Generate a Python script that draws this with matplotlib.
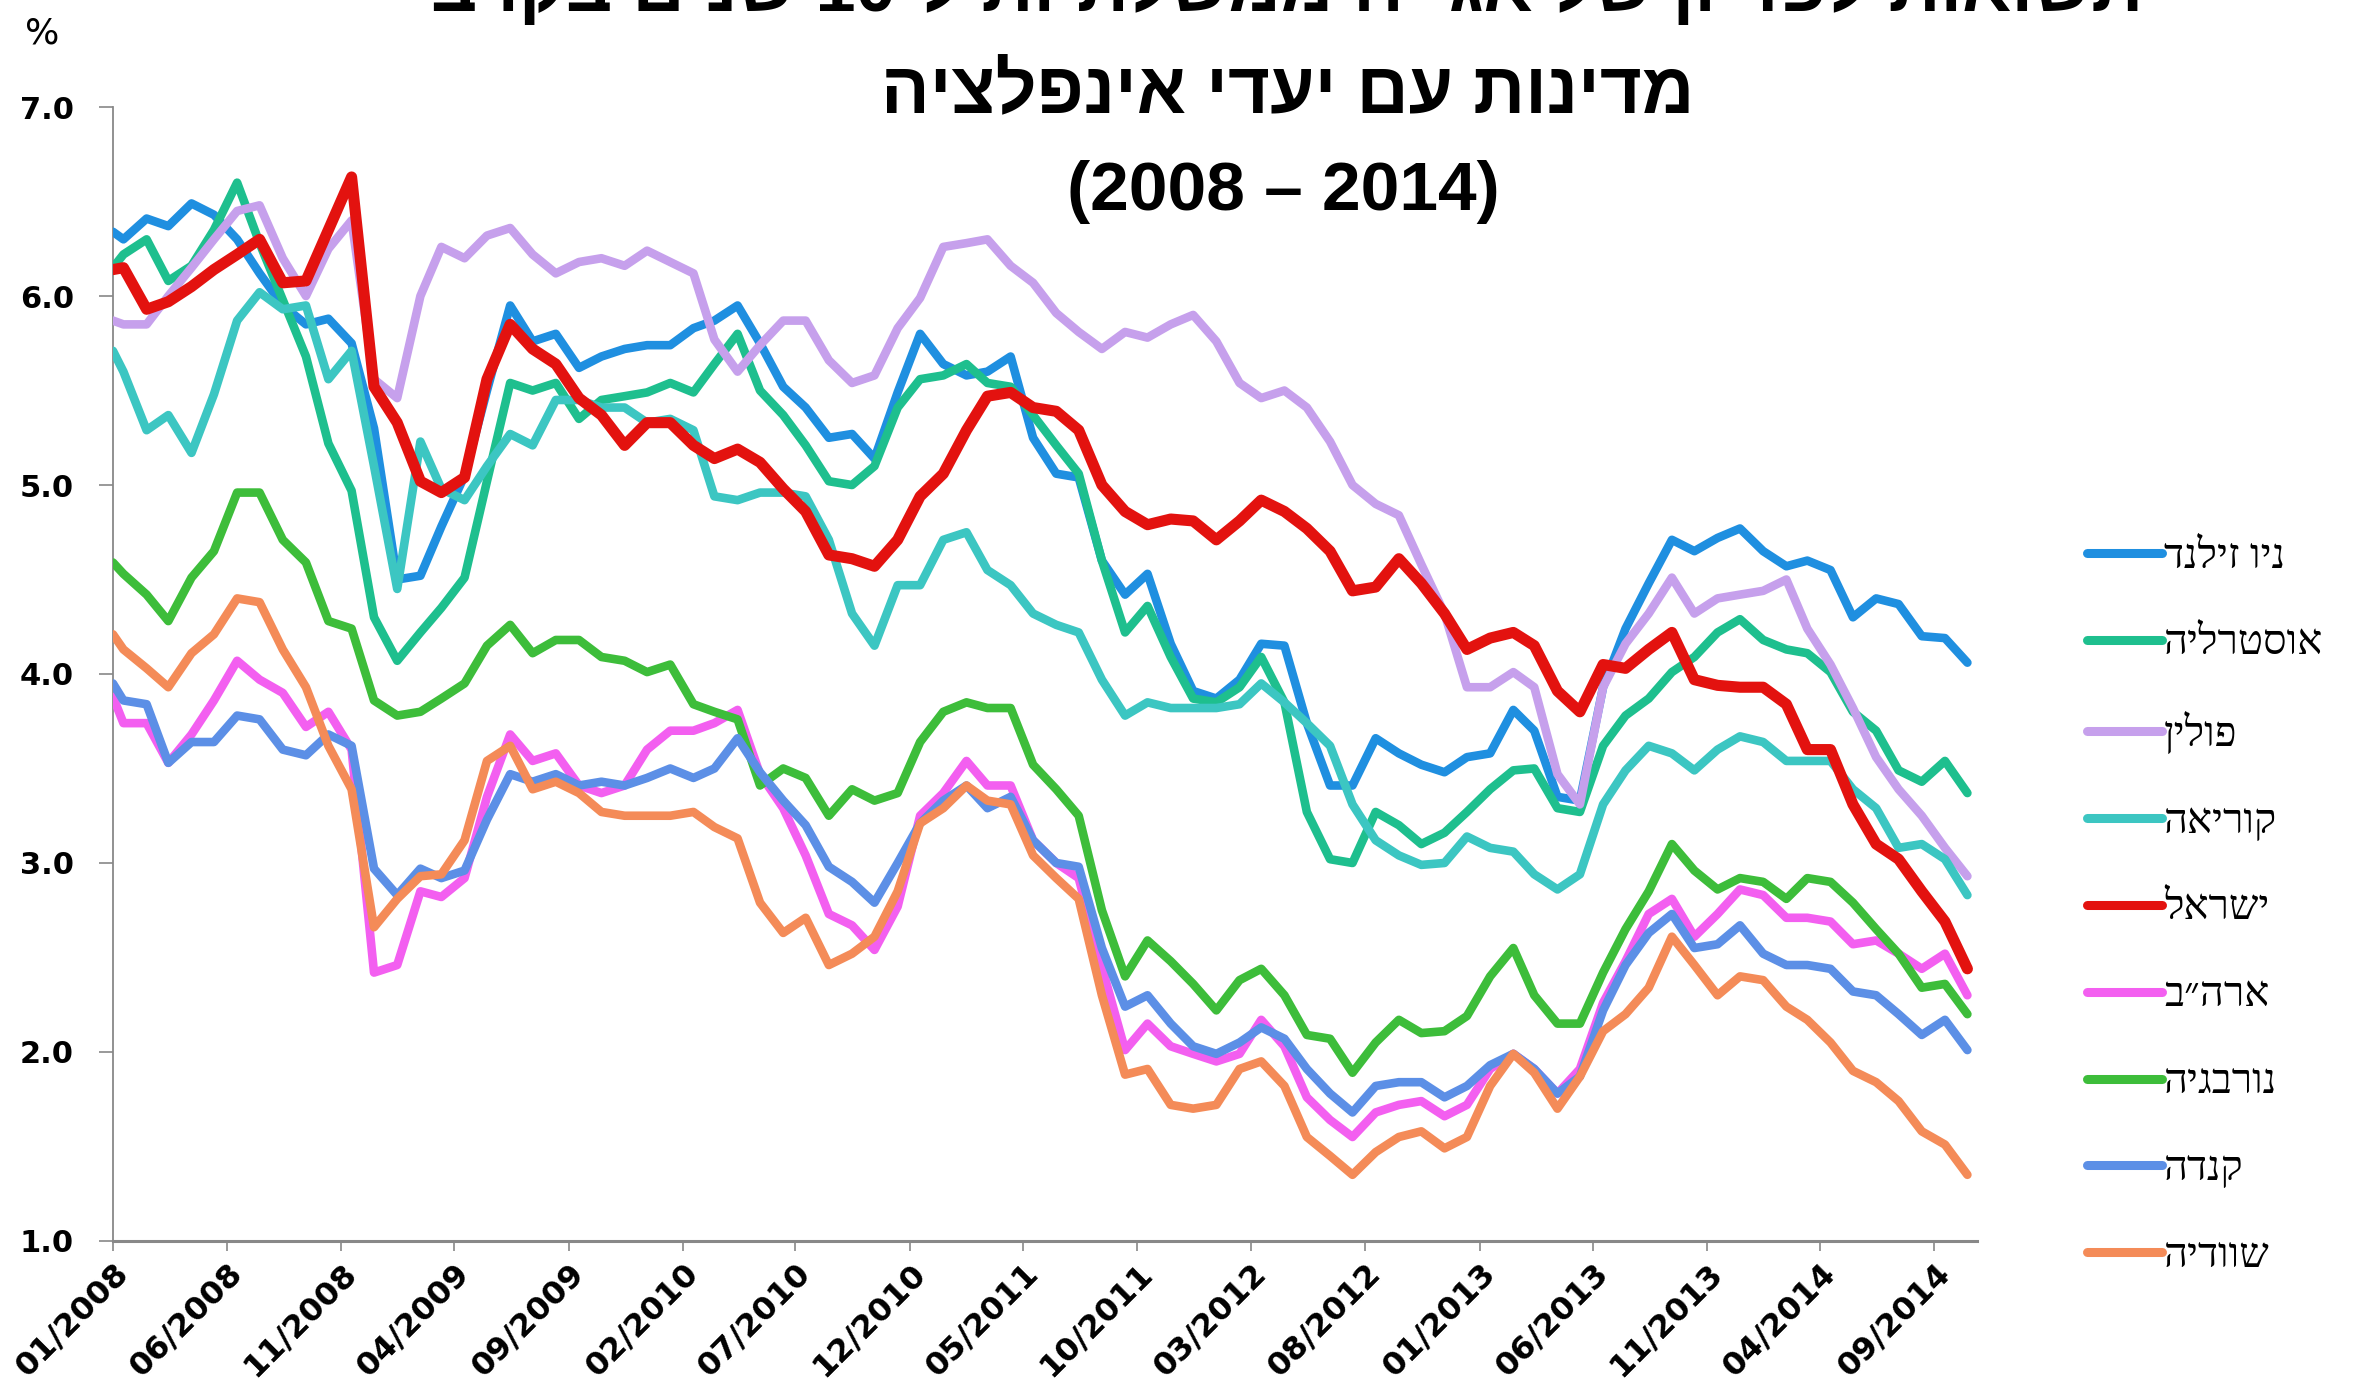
import re
import matplotlib
matplotlib.use("Agg")
import matplotlib.pyplot as plt
import pandas as pd

# monthly yields, %; first value sits on 01/01/2008, the rest mid-month 01/2008..10/2014
nz = [6.34, 6.30, 6.41, 6.37, 6.49, 6.43, 6.30, 6.12, 5.95, 5.85, 5.88, 5.75, 5.30, 4.50, 4.52, 4.78,
      5.05, 5.50, 5.95, 5.76, 5.80, 5.62, 5.68, 5.72, 5.74, 5.74, 5.83, 5.87, 5.95, 5.75,
      5.52, 5.41, 5.25, 5.27, 5.14, 5.49, 5.80, 5.64, 5.58, 5.60, 5.68, 5.25, 5.06, 5.04,
      4.60, 4.42, 4.53, 4.16, 3.91, 3.87, 3.97, 4.16, 4.15, 3.74, 3.41, 3.41, 3.66, 3.58, 3.52,
      3.48, 3.56, 3.58, 3.81, 3.70, 3.35, 3.33, 3.93, 4.24, 4.48, 4.71, 4.65, 4.72, 4.77,
      4.65, 4.57, 4.60, 4.55, 4.30, 4.40, 4.37, 4.20, 4.19, 4.06]
australia = [6.15, 6.22, 6.30, 6.08, 6.16, 6.35, 6.60, 6.28, 5.98, 5.68, 5.22, 4.97, 4.30, 4.07, 4.22, 4.35,
             4.51, 5.02, 5.54, 5.50, 5.54, 5.35, 5.45, 5.47, 5.49, 5.54, 5.49, 5.64, 5.80, 5.50,
             5.37, 5.21, 5.02, 5.00, 5.10, 5.41, 5.56, 5.58, 5.64, 5.54, 5.52, 5.37, 5.21, 5.06,
             4.60, 4.22, 4.36, 4.09, 3.87, 3.85, 3.93, 4.09, 3.85, 3.27, 3.02, 3.00, 3.27, 3.20, 3.10,
             3.16, 3.27, 3.39, 3.49, 3.50, 3.29, 3.27, 3.62, 3.78, 3.87, 4.01, 4.09, 4.22, 4.29,
             4.18, 4.13, 4.11, 4.01, 3.80, 3.70, 3.49, 3.43, 3.54, 3.37]
poland = [5.87, 5.85, 5.85, 6.00, 6.15, 6.30, 6.45, 6.48, 6.20, 6.00, 6.25, 6.40, 5.56, 5.46, 6.00, 6.26,
          6.20, 6.32, 6.36, 6.22, 6.12, 6.18, 6.20, 6.16, 6.24, 6.18, 6.12, 5.77, 5.60, 5.74,
          5.87, 5.87, 5.66, 5.54, 5.58, 5.83, 5.99, 6.26, 6.28, 6.30, 6.16, 6.07, 5.91, 5.81,
          5.72, 5.81, 5.78, 5.85, 5.90, 5.76, 5.54, 5.46, 5.50, 5.41, 5.23, 5.00, 4.90, 4.84, 4.58,
          4.32, 3.93, 3.93, 4.01, 3.93, 3.47, 3.31, 3.93, 4.16, 4.32, 4.51, 4.32, 4.40, 4.42,
          4.44, 4.50, 4.24, 4.05, 3.82, 3.56, 3.39, 3.25, 3.08, 2.93]
korea = [5.71, 5.60, 5.29, 5.37, 5.17, 5.48, 5.87, 6.02, 5.93, 5.95, 5.56, 5.71, 5.10, 4.45, 5.23, 4.98,
         4.92, 5.10, 5.27, 5.21, 5.45, 5.45, 5.41, 5.41, 5.33, 5.35, 5.29, 4.94, 4.92, 4.96,
         4.96, 4.94, 4.71, 4.32, 4.15, 4.47, 4.47, 4.71, 4.75, 4.55, 4.47, 4.32, 4.26, 4.22,
         3.97, 3.78, 3.85, 3.82, 3.82, 3.82, 3.84, 3.95, 3.85, 3.74, 3.62, 3.31, 3.12, 3.04, 2.99,
         3.00, 3.14, 3.08, 3.06, 2.94, 2.86, 2.94, 3.31, 3.49, 3.62, 3.58, 3.49, 3.60, 3.67,
         3.64, 3.54, 3.54, 3.54, 3.39, 3.29, 3.08, 3.10, 3.02, 2.83]
israel = [6.14, 6.15, 5.93, 5.97, 6.05, 6.14, 6.22, 6.30, 6.07, 6.08, 6.35, 6.63, 5.52, 5.33, 5.02, 4.96,
          5.04, 5.56, 5.85, 5.72, 5.64, 5.46, 5.37, 5.21, 5.33, 5.33, 5.21, 5.14, 5.19, 5.12,
          4.98, 4.86, 4.63, 4.61, 4.57, 4.71, 4.94, 5.06, 5.29, 5.47, 5.49, 5.41, 5.39, 5.29,
          5.00, 4.86, 4.79, 4.82, 4.81, 4.71, 4.81, 4.92, 4.86, 4.77, 4.65, 4.44, 4.46, 4.61, 4.48,
          4.32, 4.13, 4.19, 4.22, 4.15, 3.91, 3.80, 4.05, 4.03, 4.13, 4.22, 3.97, 3.94, 3.93,
          3.93, 3.84, 3.60, 3.60, 3.31, 3.10, 3.02, 2.85, 2.69, 2.44]
usa = [3.88, 3.74, 3.74, 3.53, 3.68, 3.86, 4.07, 3.97, 3.90, 3.72, 3.80, 3.60, 2.42, 2.46, 2.85, 2.82,
       2.92, 3.35, 3.68, 3.54, 3.58, 3.41, 3.37, 3.41, 3.60, 3.70, 3.70, 3.74, 3.81, 3.47,
       3.29, 3.04, 2.73, 2.67, 2.54, 2.77, 3.25, 3.37, 3.54, 3.41, 3.41, 3.12, 3.00, 2.92,
       2.45, 2.01, 2.15, 2.03, 1.99, 1.95, 1.99, 2.17, 2.03, 1.76, 1.64, 1.55, 1.68, 1.72, 1.74,
       1.66, 1.72, 1.91, 1.99, 1.91, 1.78, 1.91, 2.26, 2.48, 2.73, 2.81, 2.61, 2.73, 2.86,
       2.83, 2.71, 2.71, 2.69, 2.57, 2.59, 2.52, 2.44, 2.52, 2.30]
norway = [4.59, 4.53, 4.42, 4.28, 4.51, 4.65, 4.96, 4.96, 4.71, 4.59, 4.28, 4.24, 3.86, 3.78, 3.80, 3.87,
          3.95, 4.15, 4.26, 4.11, 4.18, 4.18, 4.09, 4.07, 4.01, 4.05, 3.84, 3.80, 3.76, 3.41,
          3.50, 3.45, 3.25, 3.39, 3.33, 3.37, 3.64, 3.80, 3.85, 3.82, 3.82, 3.52, 3.39, 3.25,
          2.75, 2.40, 2.59, 2.48, 2.36, 2.22, 2.38, 2.44, 2.30, 2.09, 2.07, 1.89, 2.05, 2.17, 2.10,
          2.11, 2.19, 2.40, 2.55, 2.30, 2.15, 2.15, 2.42, 2.65, 2.85, 3.10, 2.96, 2.86, 2.92,
          2.90, 2.81, 2.92, 2.90, 2.79, 2.65, 2.52, 2.34, 2.36, 2.20]
canada = [3.95, 3.86, 3.84, 3.53, 3.64, 3.64, 3.78, 3.76, 3.60, 3.57, 3.68, 3.62, 2.97, 2.83, 2.97, 2.92,
          2.96, 3.23, 3.47, 3.43, 3.47, 3.41, 3.43, 3.41, 3.45, 3.50, 3.45, 3.50, 3.66, 3.48,
          3.33, 3.20, 2.98, 2.90, 2.79, 3.00, 3.21, 3.33, 3.41, 3.29, 3.35, 3.12, 3.00, 2.98,
          2.55, 2.24, 2.30, 2.15, 2.03, 1.99, 2.05, 2.13, 2.07, 1.91, 1.78, 1.68, 1.82, 1.84, 1.84,
          1.76, 1.82, 1.93, 1.99, 1.91, 1.78, 1.87, 2.22, 2.46, 2.63, 2.73, 2.55, 2.57, 2.67,
          2.52, 2.46, 2.46, 2.44, 2.32, 2.30, 2.20, 2.09, 2.17, 2.01]
sweden = [4.21, 4.13, 4.03, 3.93, 4.11, 4.21, 4.40, 4.38, 4.13, 3.93, 3.62, 3.39, 2.66, 2.81, 2.93, 2.94,
          3.12, 3.54, 3.62, 3.39, 3.43, 3.37, 3.27, 3.25, 3.25, 3.25, 3.27, 3.19, 3.13, 2.79,
          2.63, 2.71, 2.46, 2.52, 2.61, 2.85, 3.21, 3.29, 3.41, 3.33, 3.31, 3.04, 2.92, 2.81,
          2.30, 1.88, 1.91, 1.72, 1.70, 1.72, 1.91, 1.95, 1.82, 1.55, 1.45, 1.35, 1.47, 1.55, 1.58,
          1.49, 1.55, 1.82, 1.99, 1.89, 1.70, 1.87, 2.11, 2.20, 2.34, 2.61, 2.46, 2.30, 2.40,
          2.38, 2.24, 2.17, 2.05, 1.90, 1.84, 1.74, 1.58, 1.51, 1.35]

dates = [pd.Timestamp("2008-01-01")] + list(pd.date_range("2008-01-01", periods=82, freq="MS") + pd.Timedelta(days=14))
tick_dates = pd.date_range("2008-01-01", "2014-09-01", freq="5MS")

names = ["ניו זילנד", "אוסטרליה", "פולין", "קוריאה", "ישראל", "ארה״ב", "נורבגיה", "קנדה", "שוודיה"]
series = [nz, australia, poland, korea, israel, usa, norway, canada, sweden]
colors = ["#1f8fe0", "#1ebf8e", "#c6a0ec", "#3cc6c2", "#e3120f", "#f35ff0", "#3dbd3a", "#5c8fe6", "#f48b58"]

title1 = "תשואות לפדיון של אג״ח ממשלתיות ל-10 שנים בקרב"
title2 = "מדינות עם יעדי אינפלציה"
title3 = "(2008 – 2014)"


def rtl(s):
    # no bidi in matplotlib: flip the string, keep numbers readable
    out = s[::-1]
    return re.sub(r"[0-9]+", lambda m: m.group(0)[::-1], out)


heb_sans = ["Liberation Sans", "DejaVu Sans"]
heb_serif = ["Liberation Serif", "DejaVu Sans"]

fig = plt.figure(figsize=(23.63, 13.94), dpi=100)
ax = fig.add_axes([0.0478, 0.1098, 0.7889, 0.8134])

lines = []
for name, vals, c in zip(names, series, colors):
    lw = 8 if name == "ישראל" else 6.2
    z = 5 if name == "ישראל" else 3
    ln, = ax.plot(dates, vals, color=c, lw=lw, zorder=z,
                  solid_joinstyle="round", solid_capstyle="round")
    lines.append(ln)

ax.set_ylim(1.0, 7.0)
ax.set_yticks([1, 2, 3, 4, 5, 6, 7])
ax.set_yticklabels(["%.1f" % v for v in [1, 2, 3, 4, 5, 6, 7]], fontsize=22, fontweight="bold")
ax.set_xlim(dates[0], dates[-1] + pd.Timedelta(days=13))
ax.set_xticks(tick_dates)
ax.set_xticklabels([d.strftime("%m/%Y") for d in tick_dates], rotation=45, ha="right",
                   rotation_mode="anchor", fontsize=23, fontweight="bold")

ax.tick_params(axis="y", direction="out", length=10, width=1.2, color="#888888", pad=18)
ax.tick_params(axis="x", direction="out", length=7, width=1.2, color="#888888", pad=5)
for s in ["top", "right"]:
    ax.spines[s].set_visible(False)
ax.spines["left"].set_color("#888888")
ax.spines["left"].set_linewidth(1.3)
ax.spines["bottom"].set_color("#888888")
ax.spines["bottom"].set_linewidth(2.2)

fig.text(0.018, 0.976, "%", fontsize=26, ha="center", va="center")

fig.text(0.5448, 0.992, rtl(title1), fontsize=52, fontweight="bold", family=heb_sans,
         ha="center", va="baseline")
fig.text(0.5448, 0.919, rtl(title2), fontsize=52, fontweight="bold", family=heb_sans,
         ha="center", va="baseline")
fig.text(0.543, 0.849, title3, fontsize=50, fontweight="bold", family=heb_sans,
         ha="center", va="baseline")

leg = fig.legend(lines, [rtl(n) for n in names], loc="upper left", bbox_to_anchor=(0.8832, 0.614),
                 frameon=False, borderpad=0, borderaxespad=0, handlelength=1.8, handletextpad=0.05,
                 labelspacing=1.16, prop={"family": heb_serif, "size": 30})
for h in leg.get_lines():
    h.set_linewidth(6.5)

fig.savefig("out.png", dpi=100)
